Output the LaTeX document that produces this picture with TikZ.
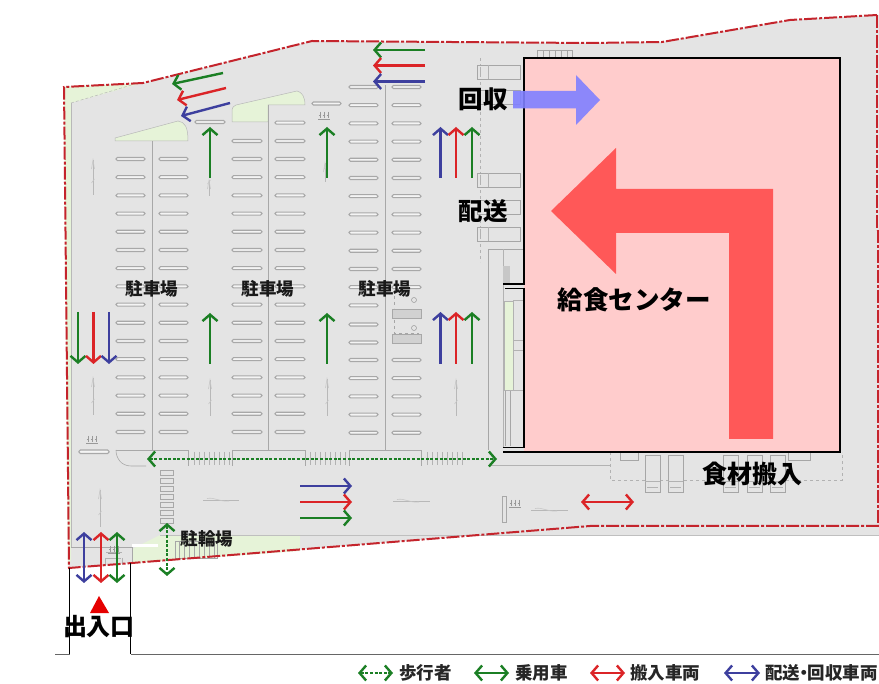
\documentclass[tikz,border=0pt]{standalone}
\usepackage{fontspec}
\setmainfont{Noto Sans CJK JP}
\usetikzlibrary{arrows.meta}
\definecolor{sitegray}{HTML}{E4E4E4}
\definecolor{isle}{HTML}{E6F3D8}
\definecolor{bline}{HTML}{A8A8A8}
\definecolor{redline}{HTML}{C4242C}
\definecolor{agreen}{HTML}{1B7F24}
\definecolor{ared}{HTML}{DB2427}
\definecolor{ablue}{HTML}{3D3F9E}
\definecolor{bldg}{HTML}{FFCCCC}
\definecolor{bigred}{HTML}{FF5858}
\definecolor{bigblue}{HTML}{8080FF}
\tikzset{
  x=1pt,y=-1pt,
  flow/.style={line width=2.4pt,-{Straight Barb[length=6.5pt,width=15pt,line width=2.4pt]}},
  flow2/.style={line width=2.4pt,{Straight Barb[length=6.5pt,width=15pt,line width=2.4pt]}-{Straight Barb[length=6.5pt,width=15pt,line width=2.4pt]}},
  dotflow/.style={flow2,dash pattern=on 3pt off 1.6pt},
  bar/.style={draw=bline,fill=white!60!sitegray,line width=1.1pt,rounded corners=1.4pt},
  thin gray/.style={draw=bline,line width=.6pt},
  faint/.style={draw=black!30,line width=.6pt},
  isleshape/.style={fill=isle,draw=black!28,line width=.5pt},
  lab/.style={font=\fontsize{24}{24}\selectfont\bfseries,text=black,inner sep=0pt},
  smalllab/.style={font=\fontsize{17.5}{18}\selectfont\bfseries,text=black!90,inner sep=0pt},
  leg/.style={font=\fontsize{17.5}{18}\selectfont\bfseries,text=black!85,inner sep=0pt,anchor=west},
  truck/.style={draw=black!35,fill=sitegray,line width=.6pt}
}
\newcommand{\hbus}[1]{%
  \draw[truck] (477,#1) rectangle (520.5,#1+14.5);
  \draw[faint] (488,#1) -- (488,#1+14.5) (480,#1+2) -- (480,#1+12.5);}
\newcommand{\vtruck}[1]{%
  \draw[truck] (#1,455) rectangle (#1+15,492);
  \draw[faint] (#1,481) -- (#1+15,481) (#1+2,487) -- (#1+13,487);}
\newcommand{\roadmark}[3]{%
  \draw[black!28,line width=.8pt] (#1,#2) -- (#1,#3);
  \draw[black!22,line width=.6pt] (#1-1.5,#2+9) -- (#1,#2) -- (#1+1.5,#2+9) (#1-1.5,#3-12) -- (#1+1.5,#3-16);}
\newcommand{\hroadmark}[3]{%
  \draw[black!28,line width=.7pt] (#1,#3) -- (#2,#3);
  \draw[black!22,line width=.6pt] (#1+4,#3-1.5) .. controls (#1+12,#3-3) and (#1+16,#3+2) .. (#1+26,#3+1);}
\newcommand{\people}[2]{%
  \foreach \k in {0,4,8}{\draw[black!40,line width=.8pt] (#1+\k,#2) -- (#1+\k,#2+6) (#1+\k-1.2,#2+3) -- (#1+\k+1.2,#2+3);}
  \draw[black!40,line width=.6pt] (#1-2,#2+7) -- (#1+10,#2+7);}
\begin{document}
\begin{tikzpicture}
\useasboundingbox (0,0) rectangle (879,684);
\fill[white] (0,0) rectangle (879,684);
% site ground
\fill[sitegray] (64,87) -- (143,83) -- (312,41) -- (590,43) -- (662,42) -- (790,20) -- (877,15) -- (879,15) -- (879,535) -- (480,535) -- (132,563) -- (69,568) -- cycle;
% green strips
\fill[isle] (64,87) -- (143,83) -- (71,103) -- (71,560) -- (68,566) -- cycle;
\draw[black!28,densely dashed,line width=.5pt] (71,103) -- (135,84);
\draw[black!28,line width=.5pt] (71,103) -- (71,548);
\fill[isle] (132,549) -- (160,535) -- (300,535) -- (300,551) -- (132,563) -- cycle;
\draw[black!25,line width=.6pt] (160,535) -- (480,535);
\draw[black!25,line width=.9pt] (480,535) -- (879,535);
% entrance apron
\draw[bline,line width=.6pt] (71,547) -- (132,547) -- (132,562);
\fill[white] (132,544) rectangle (158,547);
\draw[black!30,line width=.6pt] (106,552) -- (122,552) (105,558) -- (121,558) (105,558) -- (105,566) (122,558) -- (122,565);
% parking islands
\filldraw[isleshape] (115,141) -- (115,138) -- (178,121) .. controls (185,122) and (188,127) .. (188,141) -- cycle;
\filldraw[isleshape] (232,122) -- (232,111) .. controls (232,107) and (234,106) .. (236,105) -- (297,91) .. controls (302,92) and (305,97) .. (305,105) -- (268,105) -- (268,122) -- cycle;
% centre lines
\draw[bline,line width=.9pt] (152,141) -- (152,450);
\draw[bline,line width=.9pt] (268,105) -- (268,450);
\draw[bline,line width=.9pt] (385,85) -- (385,450);
% parking bars
\foreach \y in {159,177.2,...,433}{
  \draw[bar] (116,\y-1.5) rectangle (145,\y+1.5);
  \draw[bar] (159,\y-1.5) rectangle (188,\y+1.5);}
\foreach \y in {141,159,177.2,...,433}{
  \draw[bar] (232,\y-1.5) rectangle (262,\y+1.5);}
\foreach \y in {122.7,141,159,177.2,...,433}{
  \draw[bar] (275,\y-1.5) rectangle (305,\y+1.5);}
\foreach \y in {87,105.2,...,310,360,378.2,...,433}{
  \draw[bar] (349,\y-1.5) rectangle (378,\y+1.5);}
\draw[bar] (349,323) rectangle (378,326);\draw[bar] (349,341) rectangle (378,344);
\foreach \y in {87,105.2,...,290,360,378.2,...,433}{
  \draw[bar] (392,\y-1.5) rectangle (421,\y+1.5);}
% handicapped stalls
\foreach \y in {309,334}{\fill[black!18] (392,\y) rectangle (421,\y+9);\draw[bline,line width=.5pt] (392,\y) rectangle (421,\y+9);}
\draw[black!35,dashed,line width=.5pt] (394,290) -- (394,308) (394,320) -- (394,333) -- (419,333);
\draw[black!40,line width=.5pt] (414,300) circle (2.5) (414,328) circle (2.5);
% small bars & people marks
\draw[bar] (195,120.5) rectangle (225,123.5);
\draw[bar] (312,102) rectangle (341,105);
\draw[bar] (79,450) rectangle (109,453.5);
\people{320}{112}\people{88}{436}\people{110}{546}\people{511}{500}
\draw[thin gray] (502,496) rectangle (506,522);
% road marks
\roadmark{93}{160}{195}\roadmark{209}{180}{196}\roadmark{325}{163}{182}
\roadmark{93}{378}{415}\roadmark{210}{380}{416}\roadmark{327}{379}{416}\roadmark{456}{380}{416}
\roadmark{100}{490}{527}
\hroadmark{203}{239}{500}\hroadmark{393}{430}{501}\hroadmark{531}{568}{510}
% crosswalk bands
\draw[bline,line width=.6pt] (116,450) .. controls (116,458) and (121,466) .. (131,466) -- (146,466);
\draw[bline,line width=.6pt] (116,450) -- (188,450) -- (188,466) (232,450) -- (232,466) (232,450) -- (305,450) -- (305,466) (349,450) -- (349,466) (349,450) -- (421,450) -- (421,466);
\foreach \a/\b in {194/231,310/346,427/490}{
  \foreach \x in {0,5,...,36}{\draw[black!30,line width=.5pt] (\a+\x,452) -- (\a+\x,465);}
}
\foreach \y in {470,478,...,525}{\draw[bline,line width=.6pt] (160,\y) rectangle (173,\y+5);}
% bike parking
\draw[black!35,line width=.5pt] (175,541) rectangle (217,558);
\foreach \x in {179,184,...,215}{\draw[black!35,line width=.5pt] (\x,541) -- (\x,558);}
% service area
\draw[black!35,line width=.6pt] (488,249) -- (488,450) (488,249) -- (524,249);
\draw[black!30,dashed,line width=.5pt] (480,58) -- (480,262);
\hbus{65}\hbus{90}\hbus{173}\hbus{200}\hbus{227}
\draw[black!30,line width=.5pt] (503,249) -- (503,447);
\fill[black!22] (503,266) rectangle (510,284);
\fill[isle] (504,301) rectangle (513,390);\draw[black!30,line width=.5pt] (504,301) rectangle (513,390);
\draw[black!30,line width=.5pt] (513,300) -- (523,300) (513,340) -- (523,340) (513,350) -- (523,350) (513,390) -- (523,390);
\draw[black!35,line width=.8pt] (505,391) -- (505,446) (510,391) -- (510,446);
\foreach \x in {537,543,549,555,561,567}{\draw[black!35,line width=.5pt] (\x,50) -- (\x,57);}
\draw[black!35,line width=.5pt] (537,50) -- (572,50) -- (572,57);
% truck bay
\draw[black!30,dashed,line width=.5pt] (610,452) -- (610,480) -- (842,480) -- (842,452);
\draw[black!30,line width=.5pt] (490,465) -- (610,465);
\draw[truck] (620,452) rectangle (638,460);\draw[truck] (788,452) rectangle (810,460);
\vtruck{645}\vtruck{668}\vtruck{723}\vtruck{747}\vtruck{770}
% building
\fill[bldg] (524,58) rectangle (840,452);
\draw[black,line width=1.1pt] (503,284) -- (524,284) -- (524,58) -- (840,58) -- (840,452) -- (503,452);
\draw[black,line width=1.1pt] (505,288.5) -- (524,288.5) -- (524,447.5) -- (503,447.5);
% big arrows
\fill[bigred] (551,211) -- (616,148) -- (616,189) -- (773,189) -- (773,439) -- (729,439) -- (729,233) -- (616,233) -- (616,274) -- cycle;
\fill[bigblue,opacity=.9] (513,91) -- (576,91) -- (576,75) -- (600,100) -- (576,125) -- (576,108.5) -- (513,108.5) -- cycle;
% site boundary
\draw[redline,line width=2pt,dash pattern=on 13pt off 2pt on 3pt off 2pt] (877,15) -- (790,20) -- (662,42) -- (590,43) -- (312,41) -- (143,83) -- (64,87) -- (69,568) -- (132,563) -- (590,526) -- (879,526);
\draw[redline,line width=2pt,dash pattern=on 13pt off 2pt on 3pt off 2pt] (877,15) -- (877,230);
\draw[redline,line width=2pt,dash pattern=on 13pt off 2pt on 3pt off 2pt] (878,230) -- (878,526);
% flow arrows
\draw[flow,agreen] (223,73) -- (172,84);
\draw[flow,ared] (226,88) -- (177,100);
\draw[flow,ablue] (230,103) -- (181,116);
\draw[flow,agreen] (425,50) -- (373,50);
\draw[flow,ared] (425,65.5) -- (373,65.5);
\draw[flow,ablue] (425,81.5) -- (373,81.5);
\draw[flow,agreen] (210,178) -- (210,127);
\draw[flow,agreen] (327,178) -- (327,127);
\draw[flow,agreen] (210,364) -- (210,313);
\draw[flow,agreen] (327,364) -- (327,313);
\foreach \a/\b in {178/127,364/312}{
  \draw[flow,ablue] (440.5,\a) -- (440.5,\b);
  \draw[flow,ared] (456,\a) -- (456,\b);
  \draw[flow,agreen] (472,\a) -- (472,\b);
}
\draw[flow,agreen] (78,312) -- (78,364);
\draw[flow,ared] (93.5,312) -- (93.5,364);
\draw[flow,ablue] (109,312) -- (109,364);
\draw[flow,ablue] (300,486) -- (352,486);
\draw[flow,ared] (300,502) -- (352,502);
\draw[flow,agreen] (300,518) -- (352,518);
\draw[flow2,ablue] (84,532) -- (84,583);
\draw[flow2,ared] (101,532) -- (101,583);
\draw[flow2,agreen] (117,532) -- (117,583);
\draw[flow2,ared] (581,502) -- (634,502);
\draw[dotflow,agreen] (147,459) -- (497,459);
\draw[dotflow,agreen] (167,523) -- (167,576);
% entrance
\draw[black,line width=.9pt] (69.5,568) -- (69.5,654);
\draw[black,line width=.9pt] (130.5,563) -- (130.5,654);
\draw[black!60,line width=.9pt] (55,654) -- (69.5,654) (130.5,654) -- (879,654);
\fill[red!90!black] (99,596) -- (109,613) -- (90,613) -- cycle;
% labels
\node[lab] (nyu) at (99,627) {出入口};
\node[lab,font=\fontsize{24.5}{25}\selectfont\bfseries] (kai) at (483,99) {回収};
\node[lab,font=\fontsize{24.5}{25}\selectfont\bfseries] (hai) at (483,211) {配送};
\node[lab,font=\fontsize{25.5}{26}\selectfont\bfseries] (ctr) at (634,300) {給食センター};
\node[lab,font=\fontsize{25}{25}\selectfont\bfseries] (mat) at (752,474) {食材搬入};
\node[smalllab] (p1) at (152,289) {駐車場};
\node[smalllab] (p2) at (268,289) {駐車場};
\node[smalllab] (p3) at (385,289) {駐車場};
\node[smalllab] (bk) at (207,539) {駐輪場};
% legend
\draw[dotflow,agreen,line width=1.8pt] (358,673) -- (393,673);
\node[leg] (l1) at (399,673) {歩行者};
\draw[flow2,agreen,line width=1.8pt] (474,673) -- (509,673);
\node[leg] (l2) at (515,673) {乗用車};
\draw[flow2,ared,line width=1.8pt] (590,673) -- (625,673);
\node[leg] (l3) at (630,673) {搬入車両};
\draw[flow2,ablue,line width=1.8pt] (724,673) -- (760,673);
\node[leg] (l4) at (765,673) {配送\kern-5pt・\kern-5pt回収車両};
\end{tikzpicture}
\end{document}
